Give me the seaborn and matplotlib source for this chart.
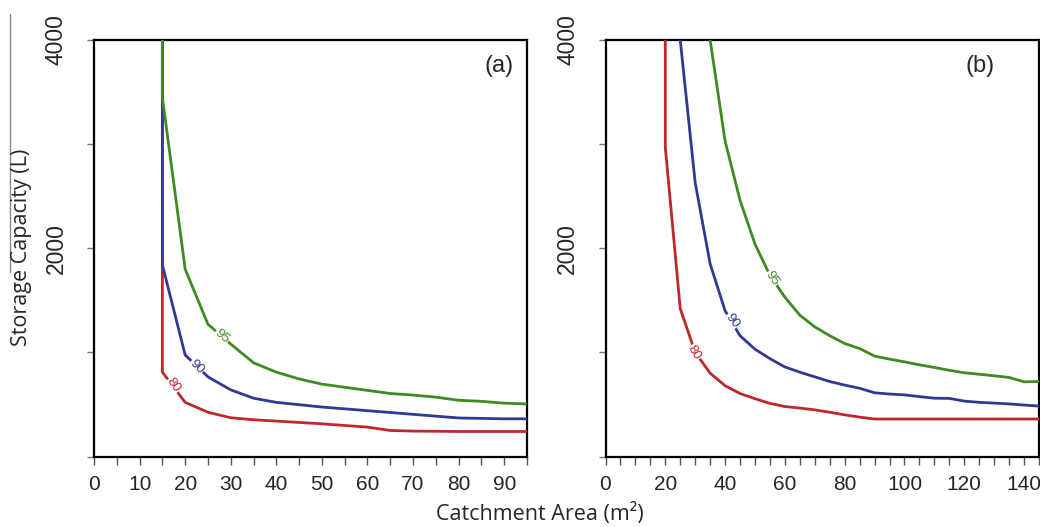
import numpy as np
import pandas as pd
import matplotlib
matplotlib.use("Agg")
import matplotlib.pyplot as plt
from matplotlib.lines import Line2D
import seaborn as sns

# ---- data: reliability contours (%) of storage capacity vs catchment area ----
levels = ["80", "90", "95"]

# panel (a)
a_x80 = [15, 15, 20, 25, 30, 35, 40, 50, 60, 65, 70, 80, 95]
a_y80 = [4000, 810, 520, 425, 372, 353, 340, 314, 282, 250, 244, 240, 240]
a_x90 = [15, 15, 20, 25, 30, 35, 40, 50, 60, 70, 80, 90, 95]
a_y90 = [4000, 1840, 975, 765, 640, 560, 520, 475, 440, 405, 370, 362, 362]
a_x95 = [15, 15, 20, 25, 30, 35, 40, 45, 50, 55, 60, 65, 70, 75, 80, 85, 90, 95]
a_y95 = [4000, 3450, 1800, 1270, 1080, 900, 810, 745, 695, 665, 635, 605, 590,
         570, 540, 530, 512, 505]

# panel (b)
b_x80 = [20, 20, 25, 30, 35, 40, 45, 50, 55, 60, 65, 70, 75, 80, 85, 90, 100,
         110, 120, 130, 145]
b_y80 = [4000, 2970, 1420, 1000, 800, 680, 605, 555, 510, 480, 465, 448, 425,
         400, 378, 360, 360, 360, 360, 360, 360]
b_x90 = [25, 30, 35, 40, 45, 50, 55, 60, 65, 70, 75, 80, 85, 90, 95, 100, 105,
         110, 115, 120, 125, 130, 135, 140, 145]
b_y90 = [4000, 2630, 1850, 1400, 1160, 1030, 940, 860, 810, 765, 720, 686, 655,
         612, 600, 592, 575, 560, 558, 532, 520, 513, 505, 494, 484]
b_x95 = [35, 40, 45, 50, 55, 60, 65, 70, 75, 80, 85, 90, 95, 100, 105, 110, 115,
         120, 125, 130, 135, 140, 145]
b_y95 = [4000, 3030, 2460, 2040, 1740, 1530, 1357, 1245, 1160, 1085, 1037, 964,
         935, 909, 880, 855, 828, 804, 790, 775, 759, 717, 720]

# inline contour label positions (x, y, rotation)
a_labels = {"80": (17.4, 683, -53), "90": (22.5, 860, -44), "95": (28.0, 1150, -40)}
b_labels = {"80": (29.6, 995, -58), "90": (42.3, 1302, -52), "95": (55.6, 1708, -56)}

a_xticks = [0, 10, 20, 30, 40, 50, 60, 70, 80, 90]
b_xticks = [0, 20, 40, 60, 80, 100, 120, 140]
yticks_all = [0, 1000, 2000, 3000, 4000]
yticks_labelled = [2000, 4000]

colors = {"80": "#c0272d", "90": "#2e3a93", "95": "#3d8b22"}


def long_frame(xs, ys):
    rows = []
    for lev, x, y in zip(levels, xs, ys):
        rows.append(pd.DataFrame({"area": x, "storage": y, "level": lev}))
    return pd.concat(rows, ignore_index=True)


df_a = long_frame([a_x80, a_x90, a_x95], [a_y80, a_y90, a_y95])
df_b = long_frame([b_x80, b_x90, b_x95], [b_y80, b_y90, b_y95])

sns.set_theme(style="white")
plt.rcParams["font.family"] = ["Liberation Sans", "DejaVu Sans"]

W, H = 1040, 527
fig = plt.figure(figsize=(W / 100, H / 100), dpi=100)


def px_axes(x0, y0, x1, y1):
    return fig.add_axes([x0 / W, 1 - y1 / H, (x1 - x0) / W, (y1 - y0) / H])


ax_a = px_axes(94, 40, 527, 456.5)
ax_b = px_axes(605.5, 40, 1039, 456.5)


def draw_panel(ax, df, labels, xmax, xticks, tag, tag_x):
    for lev in levels:
        sub = df[df["level"] == lev]
        sns.lineplot(data=sub, x="area", y="storage", sort=False, estimator=None,
                     color=colors[lev], lw=2.0, ax=ax, legend=False, zorder=3)
    for lev, (lx, ly, rot) in labels.items():
        ax.text(lx, ly, lev, color=colors[lev], fontsize=9.5, rotation=rot,
                ha="center", va="center", rotation_mode="anchor", zorder=4,
                bbox=dict(boxstyle="square,pad=0.05", fc="white", ec="none"))
    ax.set_xlim(0, xmax)
    ax.set_ylim(0, 4000)
    ax.set_xticks(xticks)
    ax.set_xticks(np.arange(0, xmax + 0.1, 5), minor=True)
    ax.set_yticks(yticks_all)
    ax.set_yticklabels([str(v) if v in yticks_labelled else "" for v in yticks_all])
    ax.tick_params(axis="x", which="both", direction="out", length=5.5,
                   width=1.0, color="#555555", bottom=True, labelsize=15, pad=8)
    ax.tick_params(axis="y", which="both", direction="out", length=5,
                   width=1.0, color="#777777", left=True, labelsize=16.5,
                   pad=14, labelrotation=90)
    for t in ax.get_yticklabels():
        t.set_va("center")
    ax.set_xlabel("")
    ax.set_ylabel("")
    for s in ax.spines.values():
        s.set_visible(True)
        s.set_color("black")
        s.set_linewidth(1.6)
    fig.text(tag_x / W, 1 - 66 / H, tag, fontsize=17, ha="center", va="center")


draw_panel(ax_a, df_a, a_labels, 95, a_xticks, "(a)", 499)
draw_panel(ax_b, df_b, b_labels, 145, b_xticks, "(b)", 980)

label_font = ["Open Sans", "DejaVu Sans"]
fig.text(540 / W, 1 - 520 / H, "Catchment Area (m²)", fontsize=15.5,
         ha="center", va="baseline", family=label_font)
fig.text(22 / W, 1 - 247 / H, "Storage Capacity (L)", fontsize=15.5,
         ha="center", va="center", rotation=90, family=label_font)
fig.add_artist(Line2D([10 / W, 10 / W], [1 - 14 / H, 1 - 272 / H],
                      color="#8a8a8a", lw=1.0))

fig.savefig("out.png", dpi=100)
